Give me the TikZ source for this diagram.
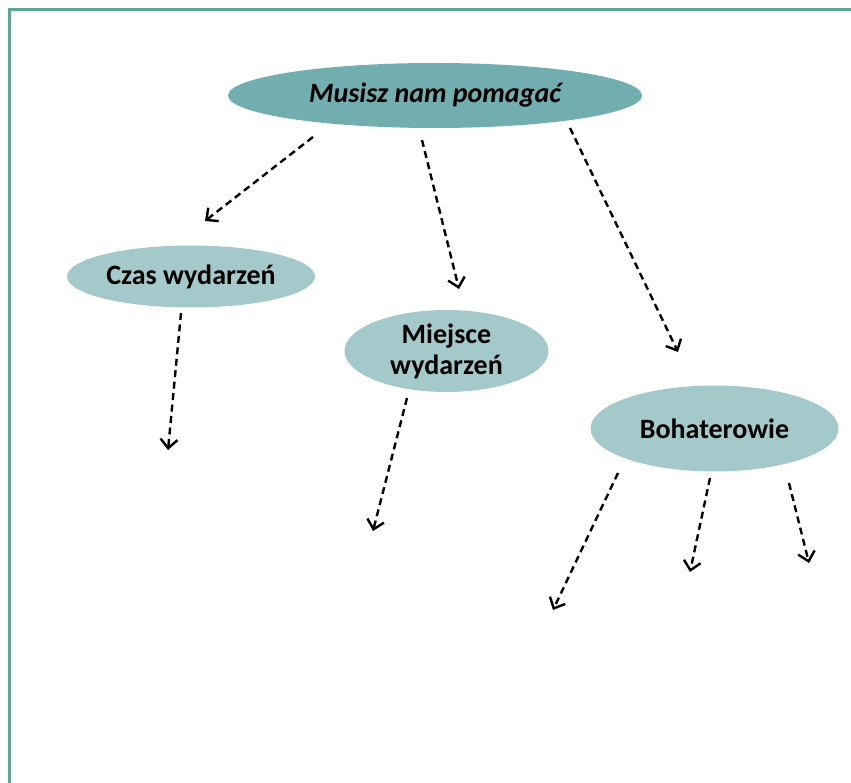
\documentclass[tikz,border=0pt]{standalone}
\usepackage{fontspec}
\setmainfont{Carlito}
\usetikzlibrary{arrows.meta,shapes.geometric}
\definecolor{frame}{HTML}{5DA893}
\definecolor{topfill}{HTML}{72ADB0}
\definecolor{subfill}{HTML}{A3C9CA}
\begin{document}
\begin{tikzpicture}[x=1pt,y=-1pt,
  topnode/.style={ellipse,fill=topfill,minimum width=414pt,minimum height=65pt,inner sep=0pt,font=\fontsize{28}{31}\selectfont\bfseries\itshape},
  subnode/.style={ellipse,fill=subfill,inner sep=0pt,align=center,font=\fontsize{28}{31}\selectfont\bfseries},
  conn/.style={line width=2.4pt,dash pattern=on 7pt off 4.5pt,-{Straight Barb[length=9pt,width=17pt,line width=2.4pt]}}]
\useasboundingbox (0,0) rectangle (851,783);
\begin{scope}
\clip (0,0) rectangle (851,783);
\draw[frame,line width=3pt] (9,9.5) rectangle (870,800);
\end{scope}
\node[topnode] (top) at (435,95.5) {Musisz nam pomagać};
\node[subnode,minimum width=248pt,minimum height=62pt] (czas) at (191,276.5) {Czas wydarzeń};
\node[subnode,minimum width=204pt,minimum height=82pt] (miejsce) at (446.5,351) {Miejsce\\wydarzeń};
\node[subnode,minimum width=248pt,minimum height=86pt] (boh) at (714.5,428.5) {Bohaterowie};
\coordinate (t1s) at (313,137); \coordinate (t1e) at (205,221);
\coordinate (t2s) at (422,140); \coordinate (t2e) at (459,289);
\coordinate (t3s) at (570,128); \coordinate (t3e) at (678,352);
\coordinate (c1s) at (181,313); \coordinate (c1e) at (168,450);
\coordinate (m1s) at (407,398); \coordinate (m1e) at (373,531);
\coordinate (b1s) at (618,473); \coordinate (b1e) at (553,610);
\coordinate (b2s) at (710,478); \coordinate (b2e) at (690,572);
\coordinate (b3s) at (789,483); \coordinate (b3e) at (809,563);
\draw[conn] (t1s) -- (t1e);
\draw[conn] (t2s) -- (t2e);
\draw[conn] (t3s) -- (t3e);
\draw[conn] (c1s) -- (c1e);
\draw[conn] (m1s) -- (m1e);
\draw[conn] (b1s) -- (b1e);
\draw[conn] (b2s) -- (b2e);
\draw[conn] (b3s) -- (b3e);
\end{tikzpicture}
\end{document}
